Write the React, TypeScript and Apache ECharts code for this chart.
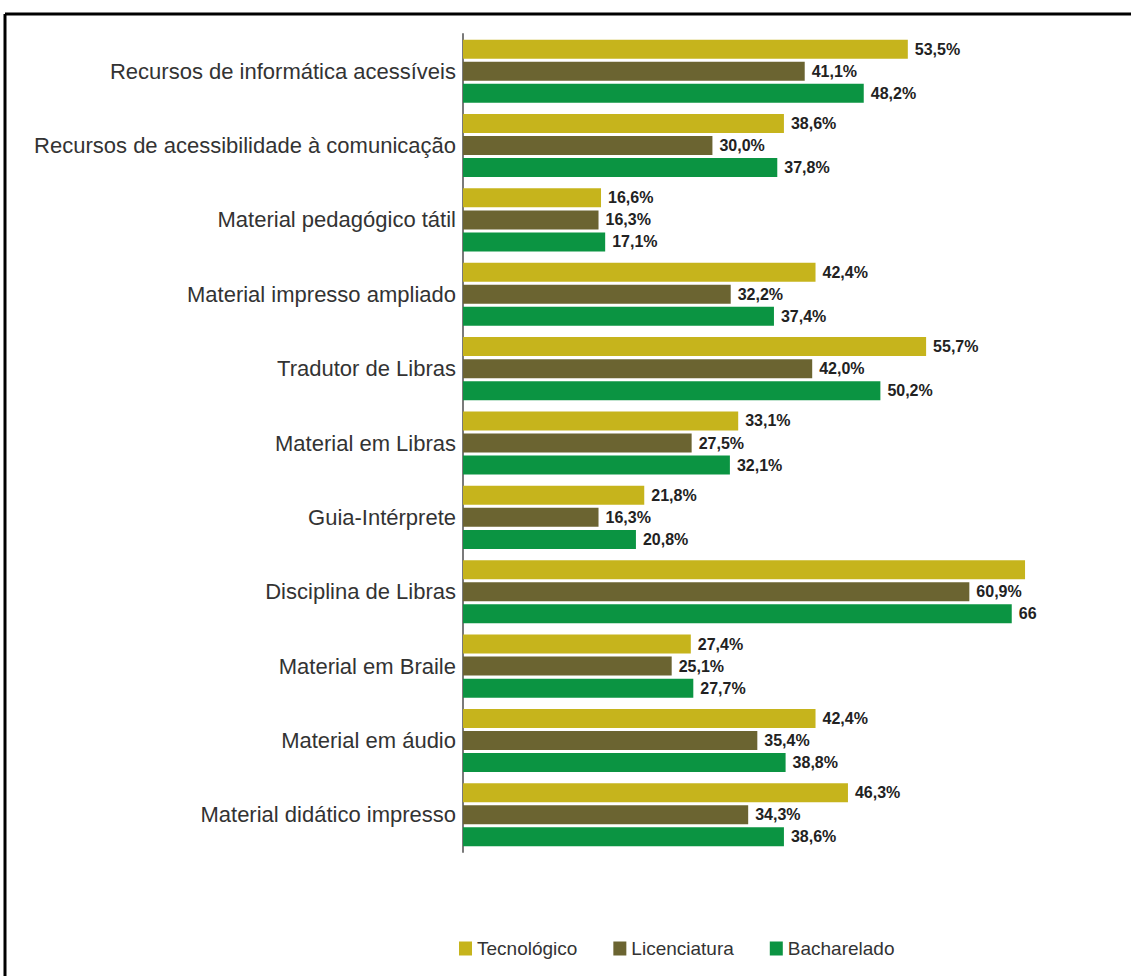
import React, { useEffect, useRef } from "react";
import * as echarts from "echarts";

const categories = [
  "Recursos de informática acessíveis",
  "Recursos de acessibilidade à comunicação",
  "Material pedagógico tátil",
  "Material impresso ampliado",
  "Tradutor de Libras",
  "Material em Libras",
  "Guia-Intérprete",
  "Disciplina de Libras",
  "Material em Braile",
  "Material em áudio",
  "Material didático impresso",
];

const seriesNames = ["Tecnológico", "Licenciatura", "Bacharelado"];

const tecnologico = [53.5, 38.6, 16.6, 42.4, 55.7, 33.1, 21.8, 67.6, 27.4, 42.4, 46.3];
const licenciatura = [41.1, 30.0, 16.3, 32.2, 42.0, 27.5, 16.3, 60.9, 25.1, 35.4, 34.3];
const bacharelado = [48.2, 37.8, 17.1, 37.4, 50.2, 32.1, 20.8, 66, 27.7, 38.8, 38.6];

const colors = ["#c6b41c", "#6b6431", "#0b9442"];

const fmt = (v: number) => v.toFixed(1).replace(".", ",") + "%";

export default function App() {
  const ref = useRef<HTMLDivElement>(null);
  useEffect(() => {
    if (!ref.current) return;
    const chart = echarts.init(ref.current, null, { renderer: "svg" });
    const labelBase = {
      show: true,
      position: "right",
      distance: 5,
      fontFamily: "Liberation Sans",
      fontWeight: "bold",
      fontSize: 16,
      color: "#222",
      backgroundColor: "#fff",
      padding: [1, 2],
      formatter: (p: any) => fmt(p.value),
    };
    const mk = (arr: number[], idx: number) =>
      arr.map((v, i) => {
        if (categories[i] === "Disciplina de Libras" && idx === 0) {
          return { value: v, label: { show: false } };
        }
        if (categories[i] === "Disciplina de Libras" && idx === 2) {
          return { value: v, label: { formatter: "{c}" } };
        }
        return v;
      });
    const data = [tecnologico, licenciatura, bacharelado];
    chart.setOption({
      animation: false,
      backgroundColor: "#fff",
      grid: { left: 463, right: 86, top: 34, height: 818, containLabel: false },
      xAxis: { type: "value", min: 0, max: 70, show: false },
      yAxis: {
        type: "category",
        data: categories,
        inverse: true,
        axisLine: { show: true, lineStyle: { color: "#7a7a7a", width: 2 } },
        axisTick: { show: false },
        axisLabel: {
          fontFamily: "Liberation Sans",
          fontSize: 22,
          color: "#333",
          margin: 7,
        },
      },
      legend: {
        data: seriesNames,
        top: 934,
        left: 454,
        icon: "rect",
        itemWidth: 13,
        itemHeight: 14,
        itemGap: 36,
        textStyle: { fontFamily: "Liberation Sans", fontSize: 19, color: "#333" },
      },
      graphic: [
        {
          type: "line",
          shape: { x1: 5, y1: 14, x2: 1131, y2: 14 },
          style: { stroke: "#000", lineWidth: 3 },
        },
        {
          type: "line",
          shape: { x1: 5, y1: 14, x2: 5, y2: 976 },
          style: { stroke: "#000", lineWidth: 3 },
        },
      ],
      series: seriesNames.map((name, idx) => ({
        name,
        type: "bar",
        barWidth: 19,
        barGap: "16%",
        itemStyle: { color: colors[idx] },
        label: labelBase,
        data: mk(data[idx], idx),
      })),
    });
    return () => chart.dispose();
  }, []);
  return (
    <div
      ref={ref}
      style={{ position: "fixed", left: 0, top: 0, width: 1131, height: 976, background: "#fff" }}
    />
  );
}
